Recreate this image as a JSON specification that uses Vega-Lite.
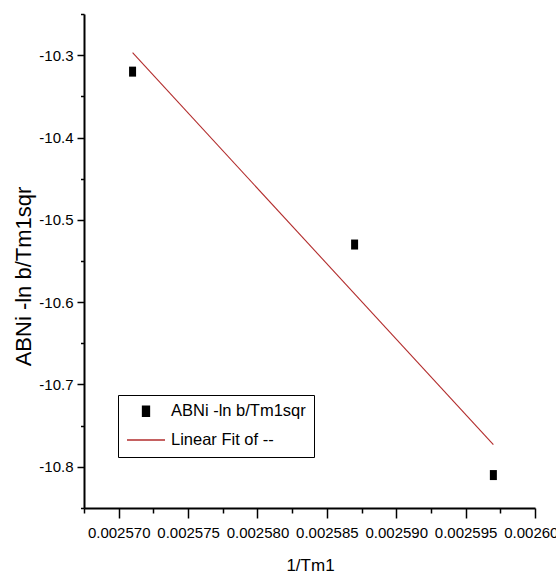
{
  "$schema": "https://vega.github.io/schema/vega-lite/v6.json",
  "width": 451,
  "height": 494,
  "autosize": {"type": "none"},
  "padding": {"left": 84, "top": 14, "right": 21, "bottom": 67},
  "background": "white",
  "config": {
    "view": {"stroke": null},
    "axis": {
      "domainColor": "black",
      "tickColor": "black",
      "labelColor": "black",
      "titleColor": "black",
      "grid": false,
      "domainWidth": 2,
      "tickWidth": 1.5
    }
  },
  "datasets": {
    "points": [
      {"x": 0.002571, "y": -10.32, "series": "ABNi -ln b/Tm1sqr"},
      {"x": 0.002587, "y": -10.53, "series": "ABNi -ln b/Tm1sqr"},
      {"x": 0.002597, "y": -10.81, "series": "ABNi -ln b/Tm1sqr"}
    ],
    "fit": [
      {"x": 0.002571, "y": -10.297, "series": "Linear Fit of --"},
      {"x": 0.002597, "y": -10.773, "series": "Linear Fit of --"}
    ]
  },
  "layer": [
    {
      "data": {"name": "fit"},
      "mark": {"type": "line", "strokeWidth": 1.1},
      "encoding": {
        "x": {
          "field": "x", "type": "quantitative",
          "scale": {"domain": [0.0025675, 0.0026], "nice": false, "zero": false},
          "axis": {"orient": "bottom", "values": [0.0025675, 0.0025725, 0.0025775, 0.0025825, 0.0025875, 0.0025925, 0.0025975], "labels": false, "domain": false, "tickSize": 5, "title": null}
        },
        "y": {
          "field": "y", "type": "quantitative",
          "scale": {"domain": [-10.85, -10.25], "nice": false, "zero": false},
          "axis": {"orient": "left", "values": [-10.85, -10.75, -10.65, -10.55, -10.45, -10.35, -10.25], "labels": false, "domain": false, "tickSize": 3.5, "title": null}
        },
        "color": {
          "field": "series", "type": "nominal",
          "scale": {"domain": ["ABNi -ln b/Tm1sqr", "Linear Fit of --"], "range": ["black", "#b22c2c"]},
          "legend": {
            "title": null, "orient": "none", "legendX": 34, "legendY": 381,
            "strokeColor": "black", "fillColor": "white", "padding": 8, "rowPadding": -1,
            "labelFont": "Liberation Sans", "labelFontSize": 16.5, "labelColor": "black", "labelOffset": 5,
            "symbolStrokeWidth": 1.3,
            "encode": {"symbols": {"update": {"fill": {"scale": "color", "field": "value"}, "stroke": {"scale": "color", "field": "value"}, "strokeWidth": {"value": 1.3}, "opacity": {"value": 1}}}}
          }
        }
      }
    },
    {
      "data": {"name": "points"},
      "mark": {"type": "point", "filled": true, "opacity": 1},
      "encoding": {
        "x": {
          "field": "x", "type": "quantitative",
          "axis": {
            "orient": "bottom",
            "values": [0.00257, 0.002575, 0.00258, 0.002585, 0.00259, 0.002595, 0.0026],
            "format": ".6f", "tickSize": 10, "labelPadding": 7,
            "labelFont": "Liberation Sans", "labelFontSize": 15,
            "labelFlush": false, "labelOverlap": false,
            "title": "1/Tm1", "titleFont": "Liberation Sans", "titleFontSize": 17, "titleFontWeight": "normal",
            "titleX": 226, "titleY": 57, "titleBaseline": "middle", "titleAlign": "center"
          }
        },
        "y": {
          "field": "y", "type": "quantitative",
          "axis": {
            "orient": "left",
            "values": [-10.8, -10.7, -10.6, -10.5, -10.4, -10.3],
            "labelExpr": "'-' + format(abs(datum.value), '.1f')",
            "tickSize": 7, "labelPadding": 4,
            "labelFont": "Liberation Sans", "labelFontSize": 15,
            "labelFlush": false, "labelOverlap": false,
            "title": "ABNi -ln b/Tm1sqr", "titleFont": "Liberation Sans", "titleFontSize": 22, "titleFontWeight": "normal",
            "titleX": -61, "titleY": 262, "titleBaseline": "middle", "titleAlign": "center"
          }
        },
        "color": {
          "field": "series", "type": "nominal",
          "legend": {
            "title": null, "orient": "none", "legendX": 34, "legendY": 381,
            "strokeColor": "black", "fillColor": "white", "padding": 8, "rowPadding": -1,
            "labelFont": "Liberation Sans", "labelFontSize": 16.5, "labelColor": "black", "labelOffset": 5,
            "symbolStrokeWidth": 1.3,
            "encode": {"symbols": {"update": {"fill": {"scale": "color", "field": "value"}, "stroke": {"scale": "color", "field": "value"}, "strokeWidth": {"value": 1.3}, "opacity": {"value": 1}}}}
          }
        },
        "shape": {
          "field": "series", "type": "nominal",
          "scale": {"domain": ["ABNi -ln b/Tm1sqr", "Linear Fit of --"], "range": ["M-0.7,-1L0.7,-1L0.7,1L-0.7,1Z", "stroke"]},
          "legend": {
            "title": null, "orient": "none", "legendX": 34, "legendY": 381,
            "strokeColor": "black", "fillColor": "white", "padding": 8, "rowPadding": -1,
            "labelFont": "Liberation Sans", "labelFontSize": 16.5, "labelColor": "black", "labelOffset": 5,
            "symbolStrokeWidth": 1.3
          }
        },
        "size": {
          "field": "series", "type": "nominal",
          "scale": {"domain": ["ABNi -ln b/Tm1sqr", "Linear Fit of --"], "range": [100, 1444]},
          "legend": {
            "title": null, "orient": "none", "legendX": 34, "legendY": 381,
            "strokeColor": "black", "fillColor": "white", "padding": 8, "rowPadding": -1,
            "labelFont": "Liberation Sans", "labelFontSize": 16.5, "labelColor": "black", "labelOffset": 5,
            "symbolStrokeWidth": 1.3
          }
        }
      }
    }
  ],
  "resolve": {"axis": {"x": "independent", "y": "independent"}}
}
